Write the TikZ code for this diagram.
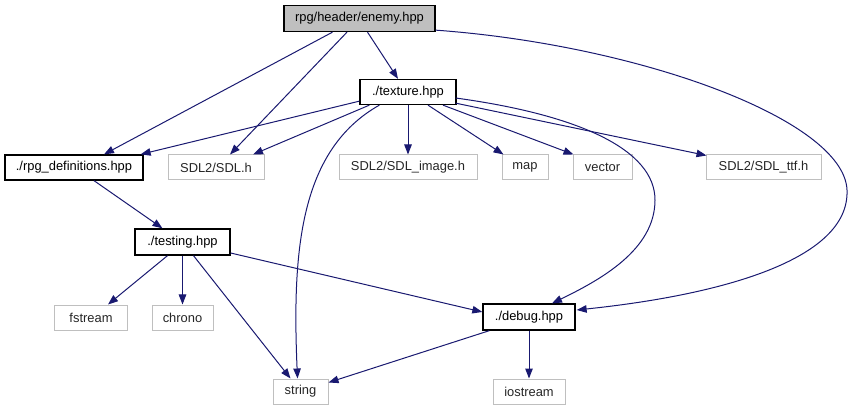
\documentclass[tikz,border=0pt]{standalone}
\usepackage{fontspec}
\setmainfont{Liberation Sans}
\usetikzlibrary{arrows.meta,calc}
\definecolor{edgeblue}{RGB}{25,25,112}
\definecolor{boxgray}{RGB}{191,191,191}
\begin{document}
\begin{tikzpicture}[x=1pt,y=-1pt,
  every node/.style={font=\fontsize{12.9}{15}\selectfont, inner sep=0pt, minimum height=25pt, anchor=center},
  mainbox/.style={draw=black, line width=1.3pt, fill=white, minimum width=#1},
  extbox/.style={draw=boxgray, line width=1pt, fill=white, text=black!85, minimum width=#1},
  dep/.style={draw=edgeblue, line width=1pt, -{Triangle[length=10pt,width=7.5pt]}, fill=none}
]
\useasboundingbox (0,0) rectangle (853,411);
% nodes
\node[mainbox=151pt, fill=boxgray, minimum height=26pt] (enemy) at (359.5,18.5) {rpg/header/enemy.hpp};
\node[mainbox=96pt] (texture) at (408,92) {./texture.hpp};
\node[mainbox=138pt] (rpgdef) at (74,167.5) {./rpg\_definitions.hpp};
\node[extbox=96pt] (sdl) at (216,167.5) {SDL2/SDL.h};
\node[extbox=138pt] (sdlimg) at (408,167.5) {SDL2/SDL\_image.h};
\node[extbox=46pt] (map) at (525,167.5) {map};
\node[extbox=59pt] (vector) at (602.5,167.5) {vector};
\node[extbox=115pt] (ttf) at (763.5,167.5) {SDL2/SDL\_ttf.h};
\node[mainbox=95pt, minimum height=26pt] (testing) at (182.5,242) {./testing.hpp};
\node[extbox=73pt] (fstream) at (91,317.5) {fstream};
\node[extbox=61pt] (chrono) at (182.5,317.5) {chrono};
\node[mainbox=92pt, minimum height=26pt] (debug) at (529,317) {./debug.hpp};
\node[extbox=55pt] (string) at (300.5,391.5) {string};
\node[extbox=72pt] (iostream) at (529,391.5) {iostream};
% edges from enemy
\draw[dep] ($(enemy.south)+(8,0)$) -- ($(texture.north)+(-10,0)$);
\draw[dep] ($(enemy.south)+(-27,0)$) -- ($(rpgdef.north)+(30,0)$);
\draw[dep] ($(enemy.south)+(-12.5,0)$) -- ($(sdl.north)+(14,0)$);
\draw[dep] ($(enemy.south east)+(0,-2)$) .. controls (640,45) and (844,120) .. (847,190)
   .. controls (850,260) and (720,295) .. ($(debug.east)+(1,-7)$);
% edges from texture
\draw[dep] ($(texture.south west)+(0,-4)$) -- ($(rpgdef.north east)+(-3,0)$);
\draw[dep] ($(texture.south west)+(10,0)$) -- ($(sdl.north)+(37,0)$);
\draw[dep] (texture.south) -- (sdlimg.north);
\draw[dep] ($(texture.south)+(20,0)$) -- ($(map.north west)+(2,0)$);
\draw[dep] ($(texture.south)+(35,0)$) -- ($(vector.north west)+(1,0)$);
\draw[dep] ($(texture.south east)+(-1,-2)$) -- ($(ttf.north west)+(1,1)$);
\draw[dep] ($(texture.south west)+(20,0)$) .. controls (300,150) and (292,250) .. ($(string.north)+(-3,0)$);
\draw[dep] ($(texture.east)+(-1,6)$) .. controls (580,115) and (655,150) .. (655,200)
   .. controls (655,250) and (600,280) .. ($(debug.north)+(23,0)$);
% other edges
\draw[dep] ($(rpgdef.south)+(20,0)$) -- ($(testing.north)+(-20,0)$);
\draw[dep] ($(testing.south)+(-15,0)$) -- ($(fstream.north)+(17,0)$);
\draw[dep] (testing.south) -- (chrono.north);
\draw[dep] ($(testing.south)+(11,0)$) -- ($(string.north)+(-10,0)$);
\draw[dep] ($(testing.east)+(0,11)$) -- ($(debug.west)+(0,-5)$);
\draw[dep] ($(debug.south west)+(7,0)$) -- ($(string.north east)+(0,4)$);
\draw[dep] (debug.south) -- (iostream.north);
\end{tikzpicture}
\end{document}
